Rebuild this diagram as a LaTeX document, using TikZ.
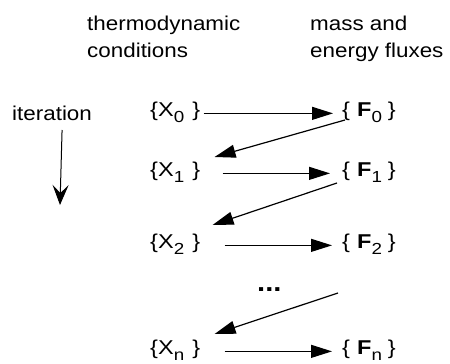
\documentclass[tikz,border=0pt]{standalone}
\usepackage{fontspec}
\setmainfont{Liberation Sans}
\usetikzlibrary{arrows.meta,positioning}

\newcommand{\setX}[1]{\{X\lower6pt\hbox{\fontsize{16}{16}\selectfont #1}\kern7pt\}}
\newcommand{\setF}[1]{\{\kern6pt\textbf{F}\lower6pt\hbox{\fontsize{16}{16}\selectfont #1}\kern5pt\}}

\begin{document}
\begin{tikzpicture}[
    x=1pt, y=-1pt,
    txt/.style={
        inner sep=0pt,
        align=left,
        xscale=1.12,
        font=\fontsize{20}{27}\selectfont
    },
    set/.style={txt, anchor=base west, xscale=1.05},
    flow/.style={-{Triangle[length=21pt,width=13pt]}, line width=1.2pt},
    down/.style={-{Stealth[length=20pt,width=16pt,inset=8pt]}, line width=1pt}
]
\useasboundingbox (0,0) rectangle (450,364);

% --- Headings ---
\node[txt, anchor=base west] (thermo) at (87,57) {thermodynamic\\conditions};
\node[txt, anchor=base west] (fluxes) at (310,57) {mass and\\energy fluxes};
\node[txt, anchor=base west] (iter) at (12,120) {iteration};

% --- Sets ---
\node[set] (X0) at (150,116) {\setX{0}};
\node[set] (F0) at (342,116) {\setF{0}};
\node[set] (X1) at (150,176) {\setX{1}};
\node[set] (F1) at (342,176) {\setF{1}};
\node[set] (X2) at (150,248) {\setX{2}};
\node[set] (F2) at (342,248) {\setF{2}};
\node[txt, anchor=base west, font=\fontsize{26}{26}\selectfont\bfseries] (dots) at (257,291) {...};
\node[set] (Xn) at (150,354) {\setX{n}};
\node[set] (Fn) at (342,354) {\setF{n}};

\coordinate (iterend) at (60,205);
\coordinate (dotsend) at (338,293);

% --- Connections ---
\draw[down] ([xshift=10pt,yshift=-10pt]iter.base) -- (iterend);

\draw[flow] ([xshift=3pt]X0.mid east) -- ([xshift=-9pt]F0.mid west);
\draw[flow] ([xshift=3pt,yshift=-4pt]F0.base west) -- ([xshift=14pt,yshift=19pt]X1.base east);

\draw[flow] ([xshift=22pt]X1.mid east) -- ([xshift=-12pt]F1.mid west);
\draw[flow] ([xshift=-5pt,yshift=-7pt]F1.base west) -- ([xshift=12pt,yshift=23pt]X2.base east);

\draw[flow] ([xshift=24pt]X2.mid east) -- ([xshift=-10pt]F2.mid west);
\draw[flow] (dotsend) -- ([xshift=14pt,yshift=20pt]Xn.base east);

\draw[flow] ([xshift=24pt]Xn.mid east) -- ([xshift=-10pt]Fn.mid west);

\end{tikzpicture}
\end{document}
